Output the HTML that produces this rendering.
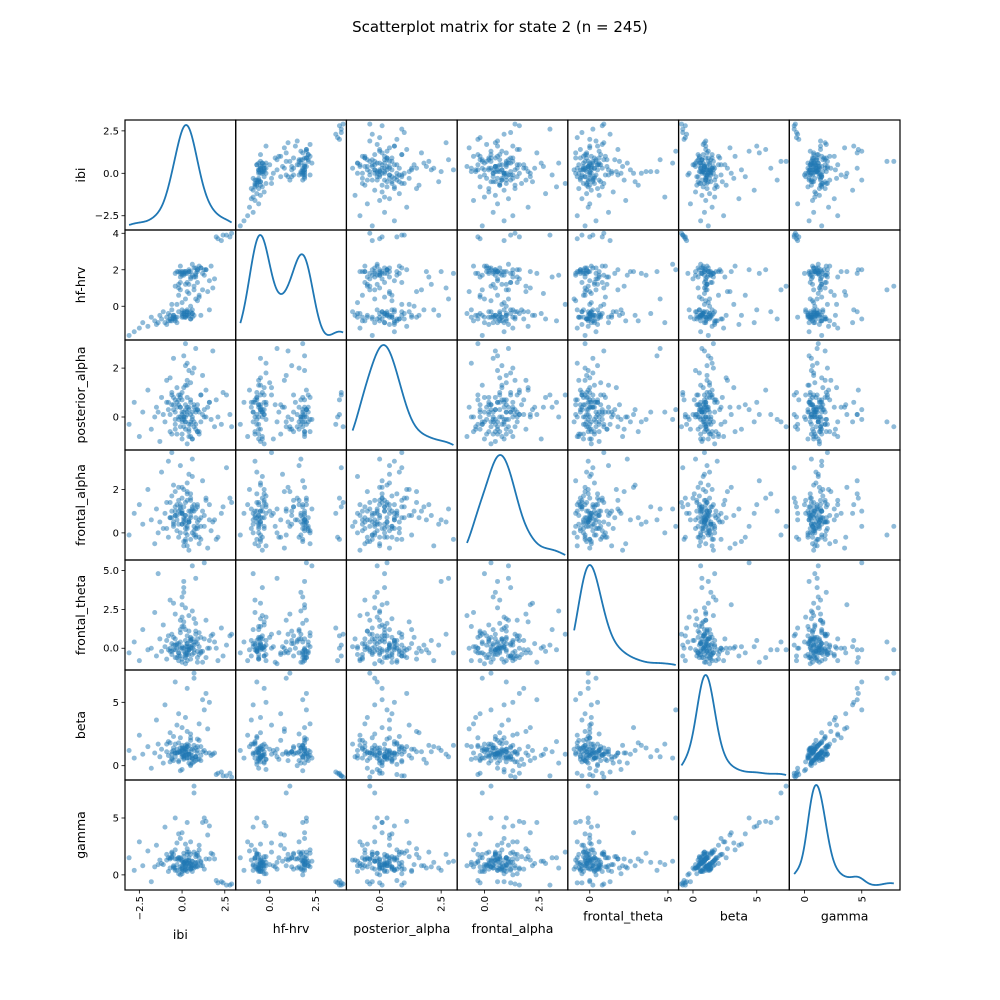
<!DOCTYPE html>
<html><head><meta charset="utf-8"><style>
html,body{margin:0;padding:0;background:#fff;}
svg{display:block;font-family:"DejaVu Sans","Liberation Sans",sans-serif;}
</style></head><body>
<svg id="chart" width="1000" height="1000" viewBox="0 0 1000 1000" xmlns="http://www.w3.org/2000/svg">
<rect width="1000" height="1000" fill="#fff"/>
<text x="500" y="32" text-anchor="middle" font-size="15">Scatterplot matrix for state 2 (n = 245)</text>
<g id="cells"></g>
</svg>
<script>
const varNames = ["ibi","hf-hrv","posterior_alpha","frontal_alpha","frontal_theta","beta","gamma"];
const ibi = [-3.1,-2.8,-2.5,-2.3,-2.0,-1.8,-1.6,-1.5,-1.3,-1.2,-1.1,-1.0,-0.9,-0.8,-0.7,-0.6,-0.5,-0.4,-0.6,-1.4,
0.1,-0.3,0.5,0.9,-0.1,0.3,1.2,0.0,-0.5,0.7,0.2,1.5,-0.2,0.4,0.8,-0.8,0.1,0.6,2.1,-0.4,
0.3,0.0,1.0,-0.6,0.5,0.2,1.8,-0.1,0.4,0.9,-0.3,0.7,0.1,1.3,-0.2,0.6,2.6,0.0,0.3,-0.7,
0.8,0.2,-0.4,1.1,0.5,0.0,0.6,1.6,-0.1,0.3,2.3,0.4,-0.5,0.9,0.1,1.4,-0.2,0.7,0.2,2.9,
-0.3,0.5,1.0,0.0,0.4,-0.9,0.6,1.2,0.2,0.8,-0.1,1.7,0.3,0.1,-0.6,0.9,0.5,2.0,0.2,-0.2,
0.4,1.1,-0.4,0.0,0.7,0.3,1.9,0.1,-0.2,0.6,1.3,0.2,-0.7,0.8,0.5,2.4,0.0,0.3,1.0,-0.1,
0.6,0.1,-0.3,1.4,0.2,0.9,0.4,-0.5,0.7,0.0,2.8,0.3,1.1,-0.1,0.5,0.8,0.2,1.6,-0.4,0.4];
const hfHrv = [-1.6,-1.4,-1.2,-0.9,-1.1,-0.6,-0.8,-1.0,-0.5,-0.7,-0.3,-0.9,-0.6,-0.4,-0.8,-0.2,-0.5,-0.7,0.1,-0.9,
-0.4,1.9,-0.7,2.0,0.9,-0.5,1.8,0.2,-0.6,1.6,1.9,0.8,-0.3,1.2,2.1,-0.8,1.7,-0.2,3.7,-0.6,
1.8,-0.5,2.2,-0.7,1.5,0.4,1.0,1.9,-0.4,2.0,-0.9,1.1,-0.3,1.7,0.6,2.3,3.9,-0.6,1.3,-0.5,
1.6,-0.3,-0.8,2.1,0.0,1.9,-0.6,1.4,1.8,-0.2,3.6,0.7,-0.7,1.9,-0.4,2.0,1.2,-0.5,1.8,4.0,
-0.6,1.9,0.5,-0.4,2.0,-1.0,1.7,0.9,-0.5,1.8,1.3,2.2,-0.3,1.9,-0.8,0.3,1.6,3.8,-0.6,1.0,
1.9,-0.5,1.8,-0.2,2.1,0.8,1.5,-0.6,1.9,-0.4,2.0,1.2,-0.7,1.7,-0.3,3.9,1.8,-0.5,0.6,2.2,
-0.4,1.8,0.1,2.0,-0.6,1.3,1.9,-0.5,0.9,1.7,3.8,-0.3,2.1,1.6,-0.7,0.4,1.9,-0.2,1.1,-0.5];
const posteriorAlpha = [-0.3,0.6,-0.8,0.2,1.1,-0.5,0.0,0.4,-1.0,0.8,0.1,-0.2,1.5,0.3,-0.6,0.5,2.4,-0.1,0.9,0.2,
0.0,-0.7,0.7,0.3,-0.4,1.3,0.1,-0.9,0.5,2.0,-0.2,0.4,0.9,-0.5,0.2,0.6,-0.1,1.8,0.0,-0.3,
0.8,0.2,-0.6,1.0,0.1,-0.2,2.7,0.4,-0.8,0.3,0.6,-0.4,1.2,0.0,0.5,-0.1,0.9,-0.7,0.2,1.6,
-0.5,0.3,0.7,-0.2,1.4,0.1,-0.9,0.6,0.0,2.2,-0.3,0.4,0.8,-0.6,0.2,1.1,-0.1,0.5,3.0,-0.4,
0.4,-0.8,0.2,1.0,-0.3,0.6,0.0,1.7,-0.5,0.3,0.9,-0.1,0.1,2.5,-0.7,0.5,-0.2,0.7,1.3,0.0,
-0.6,0.9,0.2,-0.1,0.4,1.5,-0.4,0.0,0.7,-0.9,0.3,2.1,0.1,-0.3,0.6,1.0,-0.2,0.4,-0.7,0.8,
0.2,-0.4,1.2,0.0,0.5,-0.6,1.9,0.3,-0.2,0.7,0.1,-1.1,0.9,0.4,-0.3,2.8,0.0,0.6,-0.5,0.3];
const frontalAlpha = [-0.1,0.9,1.3,0.4,2.0,0.6,-0.5,1.1,0.5,2.8,0.2,0.9,1.4,-0.2,0.7,1.7,0.4,1.0,3.7,0.0,
0.7,0.1,1.8,0.5,1.1,-0.1,2.4,0.9,0.3,1.3,0.6,-0.7,1.5,1.0,0.2,3.3,0.5,1.2,-0.2,0.8,
0.2,1.0,-0.5,0.7,1.6,0.0,0.5,0.9,-0.8,1.3,0.6,0.3,2.0,0.8,-0.2,1.1,3.0,0.4,1.5,0.7,
-0.2,1.4,0.8,0.3,1.0,2.1,0.0,0.6,1.3,-0.6,0.9,2.7,0.5,0.2,1.2,1.6,0.4,1.0,-0.3,1.4,
1.3,0.8,-0.2,1.6,0.5,0.2,3.4,1.0,-0.4,0.7,1.2,0.1,1.8,0.6,1.0,0.3,1.5,-0.3,0.8,2.1,
0.5,-0.3,1.2,0.9,0.1,1.9,0.6,-0.6,1.0,2.6,0.3,0.8,1.4,-0.1,0.7,1.2,0.4,2.3,0.6,0.0,
1.0,-0.4,0.8,1.5,0.2,1.2,0.6,2.2,-0.1,0.9,1.6,0.3,0.7,3.1,-0.3,1.1,0.4,1.3,1.9,0.5];
const frontalTheta = [-0.3,0.4,-0.8,1.2,-0.1,0.0,2.3,-0.5,0.6,-0.2,1.5,0.1,-0.7,0.8,3.1,-0.4,0.2,-0.1,0.9,4.8,
0.0,-0.6,0.5,-0.2,1.8,0.3,-0.9,0.1,0.7,-0.3,2.6,0.0,-0.5,1.1,0.4,-0.1,3.6,0.2,-0.8,0.6,
-0.4,1.4,0.1,-0.2,0.5,-1.0,0.9,0.0,2.1,-0.6,0.3,-0.1,1.7,0.6,-0.3,5.3,0.2,-0.7,0.8,0.0,
1.1,-0.5,0.2,-0.2,0.7,2.8,-0.4,0.0,0.4,-0.8,1.3,0.1,-0.1,0.6,3.9,-0.6,0.3,1.9,-0.3,0.9,
0.2,-0.7,1.0,0.0,-0.4,0.5,2.4,-0.2,0.1,1.6,-0.5,0.8,-0.1,4.3,0.3,-0.9,0.6,0.0,1.2,-0.3,
-0.1,0.7,-0.6,2.0,0.2,-0.3,0.4,1.4,-0.8,0.0,5.5,0.5,-0.2,0.9,0.1,-0.5,3.3,0.3,-0.4,1.0,
0.6,-0.2,0.0,1.8,-0.6,0.3,-0.1,2.9,0.4,-0.9,0.8,0.1,-0.3,1.2,0.0,4.5,-0.4,0.5,2.2,-0.1];
const beta = [1.2,0.6,2.4,0.9,1.5,-0.2,1.0,3.6,0.7,1.3,0.2,4.8,1.1,0.8,1.8,0.5,1.4,6.6,0.9,1.7,
0.8,1.3,0.1,2.1,1.0,0.6,5.2,1.2,0.4,1.6,0.9,2.9,0.3,1.1,0.7,1.9,1.4,0.5,-0.6,1.0,
1.5,0.7,3.3,1.1,0.0,1.3,0.9,2.2,1.6,0.5,1.0,7.3,0.8,1.2,4.1,0.6,-0.8,1.4,0.9,2.6,
0.4,1.1,1.7,0.8,1.3,3.0,0.6,1.0,-0.4,1.5,-0.5,0.9,2.3,1.2,0.7,5.7,1.1,0.3,1.6,-0.9,
1.0,2.0,0.5,1.3,0.9,1.7,0.2,1.1,3.8,0.7,1.4,0.8,6.1,1.2,0.6,1.0,2.5,-0.7,1.3,0.4,
0.9,1.5,0.7,-0.3,1.2,2.7,1.0,0.5,1.8,0.8,4.4,1.1,0.3,1.4,0.9,-0.8,1.6,0.6,2.0,1.1,
1.3,0.6,3.2,1.0,0.8,1.5,0.2,1.2,6.9,0.9,-0.6,1.7,0.4,1.1,2.2,0.7,1.4,5.0,1.0,0.6];
const gamma = [1.5,0.4,2.9,0.8,2.1,-0.6,0.7,2.6,1.3,1.0,0.9,4.2,1.8,0.3,1.4,1.6,0.6,5.0,2.0,0.9,
1.1,0.9,0.5,1.7,1.4,0.3,4.6,0.8,0.7,2.0,1.2,3.5,0.1,1.5,1.0,1.5,1.9,0.8,-0.7,0.6,
2.0,0.3,2.2,1.9,0.6,0.5,1.8,3.2,0.8,1.1,0.4,7.8,1.6,0.5,3.6,1.2,-0.9,0.6,1.8,1.5,
0.7,0.8,2.2,1.2,0.9,3.7,0.3,1.4,0.0,1.1,-0.6,1.2,1.8,0.8,1.1,4.7,1.5,0.6,1.2,-0.8,
1.4,1.0,1.5,0.5,2.0,1.3,0.6,0.8,2.7,1.6,0.5,1.9,4.6,0.4,1.5,0.7,2.9,-0.5,0.4,1.3,
1.3,1.1,0.4,0.1,0.8,2.3,1.4,0.9,1.5,1.2,5.0,0.7,0.6,1.8,0.5,-0.7,1.2,1.0,2.6,0.7,
0.9,1.0,2.8,1.4,0.5,1.9,0.6,0.8,7.2,1.3,-0.9,1.3,0.8,1.5,1.8,1.1,0.9,4.3,1.4,1.0];
const series = [ibi, hfHrv, posteriorAlpha, frontalAlpha, frontalTheta, beta, gamma];
const domainMin = [-3.34,-1.85,-1.35,-1.25,-1.4,-1.13,-1.33];
const domainMax = [3.14,4.18,3.15,3.82,5.68,7.55,8.34];
const xTickValues = [[-2.5,0,2.5],[0,2.5],[0,2.5],[0,2.5],[0,5],[0,5],[0,5]];
const xTickLabels = [["\u22122.5","0.0","2.5"],["0.0","2.5"],["0.0","2.5"],["0.0","2.5"],["0","5"],["0","5"],["0","5"]];
const yTickValues = [[-2.5,0,2.5],[0,2,4],[0,2],[0,2],[0,2.5,5],[0,5],[0,5]];
const yTickLabels = [["\u22122.5","0.0","2.5"],["0","2","4"],["0","2"],["0","2"],["0.0","2.5","5.0"],["0","5"],["0","5"]];

const NS = "http://www.w3.org/2000/svg";
const L = 125, T = 120, CW = (900-125)/7, CH = 110;
const root = document.getElementById('cells');
function mk(tag, attrs, parent){
  const e = document.createElementNS(NS, tag);
  for (const k in attrs) e.setAttribute(k, attrs[k]);
  (parent||root).appendChild(e); return e;
}
function xScale(j, v){ return L + j*CW + (v-domainMin[j])/(domainMax[j]-domainMin[j])*CW; }
function yScale(i, v){ return T + (i+1)*CH - (v-domainMin[i])/(domainMax[i]-domainMin[i])*CH; }
function kde(vals, xs){
  const n = vals.length, m = vals.reduce((a,b)=>a+b,0)/n;
  const sd = Math.sqrt(vals.reduce((a,b)=>a+(b-m)*(b-m),0)/(n-1));
  const h = sd*Math.pow(n,-0.2);
  return xs.map(x=>{let s=0; for(const v of vals){const z=(x-v)/h; s+=Math.exp(-0.5*z*z);} return s/(n*h*Math.sqrt(2*Math.PI));});
}
const n = varNames.length;
for (let i=0;i<n;i++){
  for (let j=0;j<n;j++){
    const x0 = L + j*CW, y0 = T + i*CH;
    const g = mk('g', {});
    
    
    const cid = 'clip'+i+'_'+j;
    const cp = mk('clipPath', {id: cid}, g);
    mk('rect', {x:x0, y:y0, width:CW, height:CH}, cp);
    if (i===j){
      const vals = series[i];
      const mn = Math.min(...vals), mx = Math.max(...vals);
      const xs = []; for (let k=0;k<300;k++) xs.push(mn + (mx-mn)*k/299);
      const ys = kde(vals, xs);
      const ymin = Math.min(...ys), ymax = Math.max(...ys), pad = (ymax-ymin)*0.05;
      const d = xs.map((x,k)=>(k?'L':'M') + xScale(j,x).toFixed(2) + ',' + (y0+CH - (ys[k]-(ymin-pad))/((ymax+pad)-(ymin-pad))*CH).toFixed(2)).join('');
      const p = mk('path', {d:d, fill:'none', stroke:'#1f77b4', 'stroke-width':1.8, 'clip-path':'url(#'+cid+')'}, g);
      
      
    } else {
      const pg = mk('g', {'clip-path':'url(#'+cid+')', fill:'#1f77b4', 'fill-opacity':0.5}, g);
      
      
      for (let k=0;k<series[j].length;k++){
        const c = mk('circle', {cx:xScale(j, series[j][k]).toFixed(2), cy:yScale(i, series[i][k]).toFixed(2), r:2.5}, pg);
        
        
      }
    }
    const fr = mk('rect', {x:x0, y:y0, width:CW, height:CH, fill:'none', stroke:'#000', 'stroke-width':1.2}, g);
    
    
  }
}
for (let i=0;i<n;i++){
  const g = mk('g', {});
  
  
  yTickValues[i].forEach((v,k)=>{
    const y = yScale(i, v);
    mk('line', {x1:L-3.5, x2:L, y1:y, y2:y, stroke:'#000', 'stroke-width':0.8}, g);
    const t = mk('text', {x:L-6, y:y+3.5, 'text-anchor':'end', 'font-size':10}, g);
    t.textContent = yTickLabels[i][k];
    
    
  });
  const cy = T + i*CH + CH/2;
  const lab = mk('text', {x:0, y:0, transform:'translate(85,'+cy+') rotate(-90)', 'text-anchor':'middle', 'font-size':12.5}, g);
  lab.textContent = varNames[i];
  
  
}
const B = T + n*CH;
for (let j=0;j<n;j++){
  const g = mk('g', {});
  
  
  let maxLen = 0;
  xTickValues[j].forEach((v,k)=>{
    const x = xScale(j, v);
    mk('line', {x1:x, x2:x, y1:B, y2:B+3.5, stroke:'#000', 'stroke-width':0.8}, g);
    const t = mk('text', {x:0, y:0, transform:'translate('+(x+3.5)+','+(B+6)+') rotate(-90)', 'text-anchor':'end', 'font-size':10}, g);
    t.textContent = xTickLabels[j][k];
    
    
    maxLen = Math.max(maxLen, xTickLabels[j][k].length);
  });
  const cx = L + j*CW + CW/2;
  const ly = B + 10 + maxLen*6.3 + 14;
  const lab = mk('text', {x:cx, y:ly, 'text-anchor':'middle', 'font-size':12.5}, g);
  lab.textContent = varNames[j];
  
  
}
</script>
</body></html>
